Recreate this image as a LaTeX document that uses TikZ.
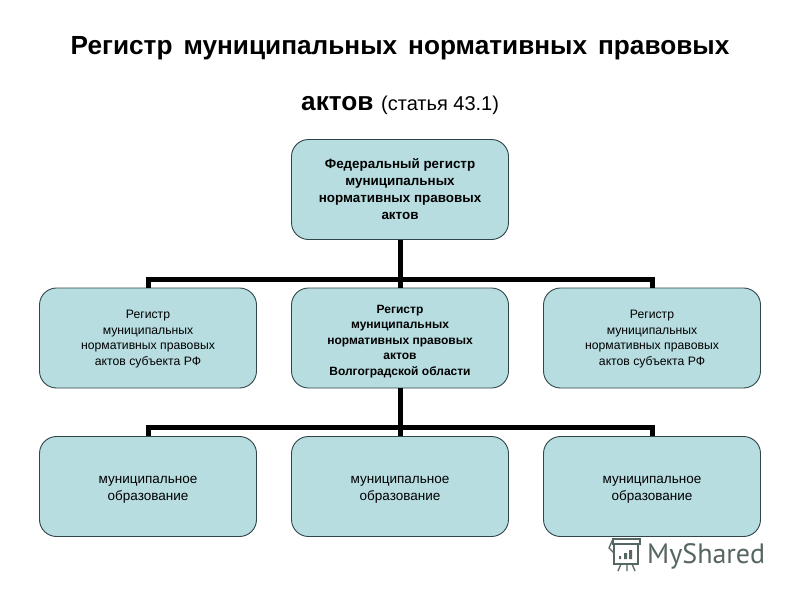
\documentclass[tikz,border=0pt]{standalone}
\usepackage{fontspec}
\setmainfont{Liberation Sans}
\newfontfamily\logofont{PT Sans}
\definecolor{boxfill}{HTML}{B7DDE1}
\definecolor{boxedge}{HTML}{2F4548}
\definecolor{logogray}{HTML}{556663}
\newcommand{\padtop}[1]{\rule{0pt}{#1pt}}
\tikzset{
  regbox/.style={draw=boxedge,line width=0.9pt,fill=boxfill,rounded corners=17pt,
    minimum width=217pt,minimum height=100pt,align=center,inner sep=0pt,font=\fontsize{12.2}{15.5}\selectfont},
  munbox/.style={regbox,font=\fontsize{13.5}{17}\selectfont},
  bus/.style={line width=5pt,black},
  title/.style={inner sep=0pt,font=\fontsize{26.2}{30}\selectfont\bfseries},
  logo/.style={draw=logogray,line width=1.3pt}
}
\begin{document}
\begin{tikzpicture}[x=1pt,y=-1pt]
  \useasboundingbox (0,0) rectangle (800,600);
  \fill[white] (0,0) rectangle (800,600);
  \node[title,anchor=base] (title1) at (400,54) {\spaceskip=11pt Регистр муниципальных нормативных правовых};
  \node[title,anchor=base west] (title2) at (301,110.5) {актов};
  \node[inner sep=0pt,anchor=base west,font=\fontsize{20}{24}\selectfont] (title3) at (381,110) {(статья 43.1)};
  % boxes
  \coordinate (busa) at (400,279);
  \coordinate (busb) at (400,427);
  \node[regbox,font=\fontsize{13.4}{17}\selectfont\bfseries] (fed) at (400,189.5)
    {Федеральный регистр\\муниципальных\\нормативных правовых\\актов};
  \node[regbox] (reg1) at (148,338) {\padtop{10.6}Регистр\\муниципальных\\нормативных правовых\\актов субъекта РФ};
  \node[regbox,font=\fontsize{12}{15.5}\selectfont\bfseries] (reg2) at (400,338)
    {\padtop{14.6}Регистр\\муниципальных\\нормативных правовых\\актов\\Волгоградской области};
  \node[regbox] (reg3) at (652,338) {\padtop{10.6}Регистр\\муниципальных\\нормативных правовых\\актов субъекта РФ};
  \node[munbox] (mun1) at (148,486.5) {\padtop{13}муниципальное\\образование};
  \node[munbox] (mun2) at (400,486.5) {\padtop{13}муниципальное\\образование};
  \node[munbox] (mun3) at (652,486.5) {\padtop{13}муниципальное\\образование};
  % connectors
  \begin{scope}[bus]
    \draw (fed) to (reg2);
    \draw (reg1.north) |- (busa) -| (reg3.north);
    \draw (reg2) to (mun2);
    \draw (mun1.north) |- (busb) -| (mun3.north);
  \end{scope}
  % logo
  \node[inner sep=0pt,anchor=base west,text=logogray,font=\logofont\fontsize{28}{30}\selectfont] (brand) at (647,563.5) {MyShared};
  \begin{scope}[logo]
    \draw (613,539) rectangle (640,544);
    \draw (614,544) rectangle (638,564);
    \draw (613,539) -- (609,548) -- (614,553);
    \draw (621,564) -- (618,571) (627,564) -- (627,571) (632,564) -- (635,571);
    \fill[logogray] (619,556) rectangle (621,559) (624,553) rectangle (627,559) (629,550) rectangle (632,559);
  \end{scope}
\end{tikzpicture}
\end{document}
